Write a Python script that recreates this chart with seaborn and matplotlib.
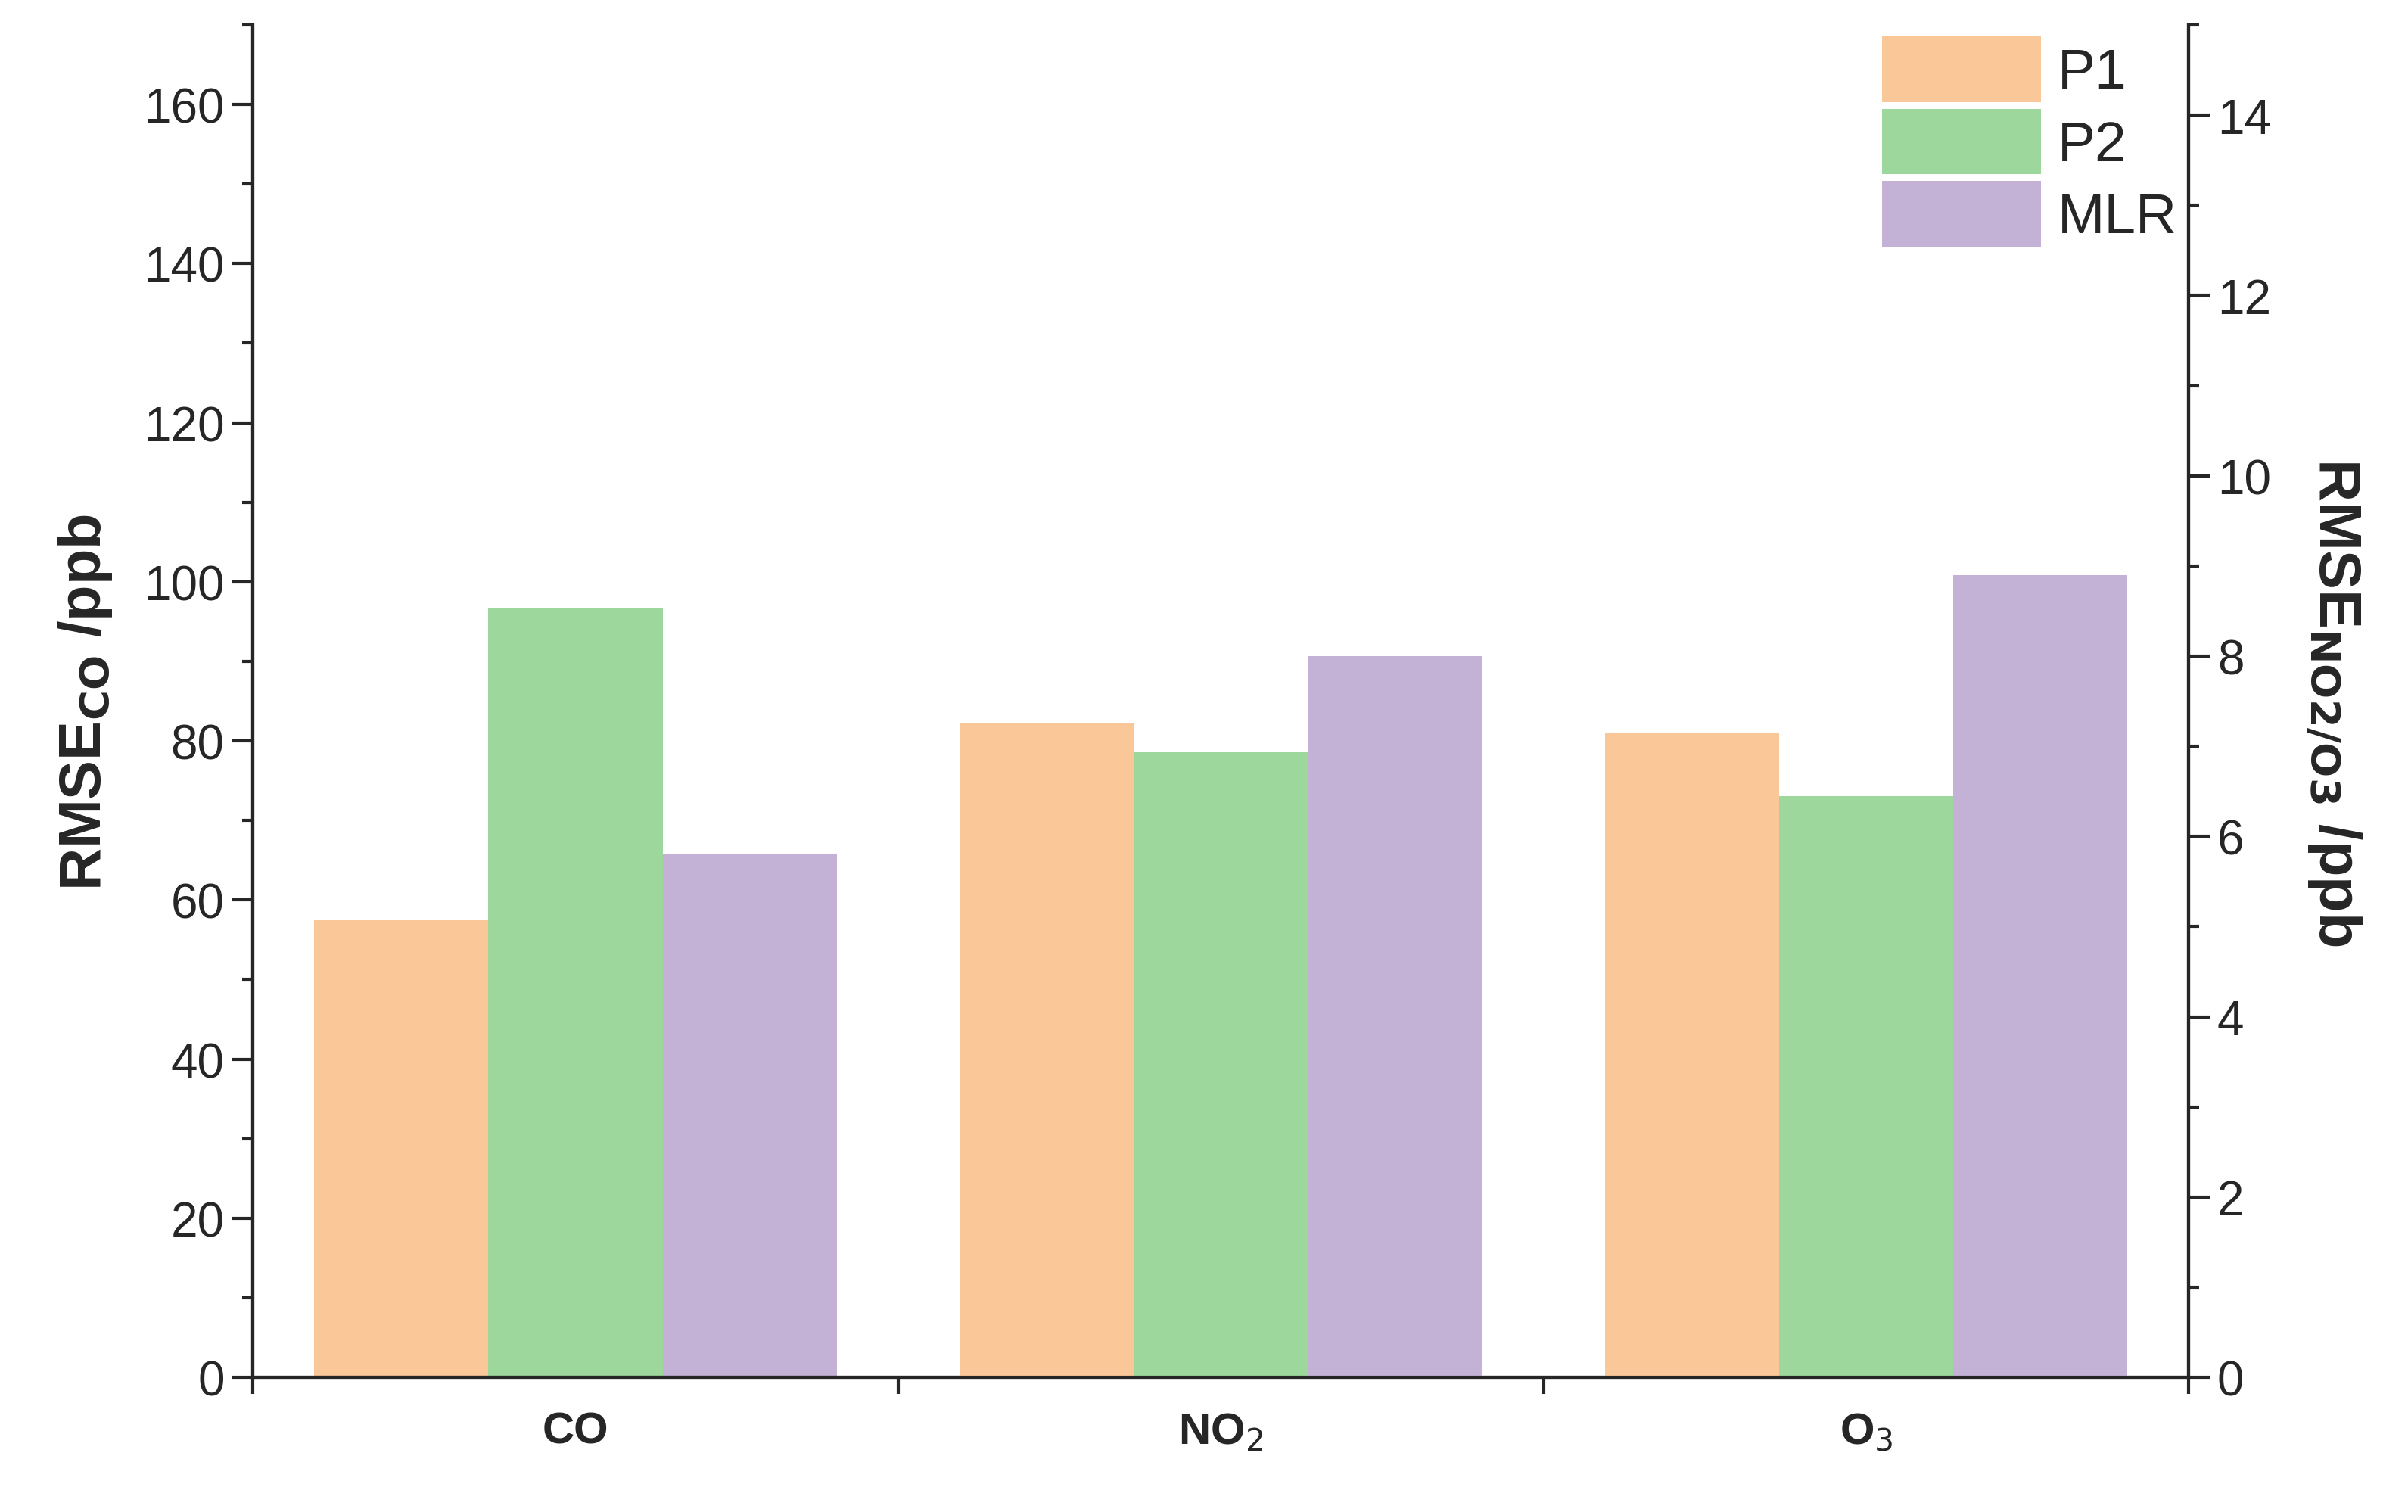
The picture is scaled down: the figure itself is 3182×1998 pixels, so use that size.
import matplotlib
matplotlib.use("Agg")
import matplotlib.pyplot as plt
import seaborn as sns
import pandas as pd
import numpy as np
from matplotlib.ticker import MultipleLocator, FixedLocator

sns.set_style("ticks")
plt.rcParams['font.family'] = ['Liberation Sans', 'DejaVu Sans']

categories = ["CO", "NO$_2$", "O$_3$"]
methods = ["P1", "P2", "MLR"]
co_values = [57.5, 96.7, 65.8]          # left axis (ppb)
no2_values = [7.25, 6.93, 8.0]          # right axis (ppb)
o3_values = [7.15, 6.45, 8.9]           # right axis (ppb)
colors = ["#FAC898", "#9ED79B", "#C3B2D6"]

left_df = pd.DataFrame({"cat": categories[0], "method": methods, "val": co_values})
right_df = pd.DataFrame({"cat": [categories[1]] * 3 + [categories[2]] * 3,
                         "method": methods * 2, "val": no2_values + o3_values})

fig = plt.figure(figsize=(15.91, 9.995), dpi=200)
ax = fig.add_axes([0.105, 0.089, 0.804, 0.894])
ax2 = ax.twinx()
sns.barplot(data=left_df, x="cat", y="val", hue="method", order=categories,
            hue_order=methods, palette=colors, width=0.81, ax=ax, saturation=1, linewidth=0)
sns.barplot(data=right_df, x="cat", y="val", hue="method", order=categories,
            hue_order=methods, palette=colors, width=0.81, ax=ax2, saturation=1, linewidth=0)

ax.set_ylim(0, 170)
ax2.set_ylim(0, 15)
ax.set_xlim(-0.5, 2.5)
ax.yaxis.set_major_locator(MultipleLocator(20))
ax.yaxis.set_minor_locator(MultipleLocator(10))
ax2.yaxis.set_major_locator(MultipleLocator(2))
ax2.yaxis.set_minor_locator(MultipleLocator(1))
ax.xaxis.set_minor_locator(FixedLocator([-0.5, 0.5, 1.5, 2.5]))
ax.tick_params(axis='x', which='major', length=0, labelsize=21, pad=16)
ax.tick_params(axis='x', which='minor', length=8, width=1.5, direction='out')
for lab in ax.get_xticklabels():
    lab.set_fontweight('bold')
ax.tick_params(axis='y', which='major', length=10, width=1.5, labelsize=23, direction='out')
ax.tick_params(axis='y', which='minor', length=5, width=1.5, direction='out')
ax2.tick_params(axis='y', which='major', length=10, width=1.5, labelsize=23, direction='out')
ax2.tick_params(axis='y', which='minor', length=5, width=1.5, direction='out')
for a in (ax, ax2):
    for s in a.spines.values():
        s.set_linewidth(1.5)
ax.spines['top'].set_visible(False)
ax2.spines['top'].set_visible(False)

ax.set_xlabel("")
ax.set_ylabel("RMSE$_\\mathbf{CO}$ /ppb", fontsize=28, fontweight='bold', labelpad=14)
ax2.set_ylabel("RMSE$_\\mathbf{NO2/O3}$ /ppb", fontsize=28, fontweight='bold',
               rotation=270, labelpad=44)

if ax.get_legend():
    ax.get_legend().remove()
handles, labels = ax2.get_legend_handles_labels()
ax2.legend(handles, labels, loc='upper right', fontsize=27, frameon=False,
           handlelength=2.8, handleheight=1.4, labelspacing=0.12,
           handletextpad=0.3, borderaxespad=0.1, borderpad=0.1)

fig.savefig("out.png", dpi=200)
